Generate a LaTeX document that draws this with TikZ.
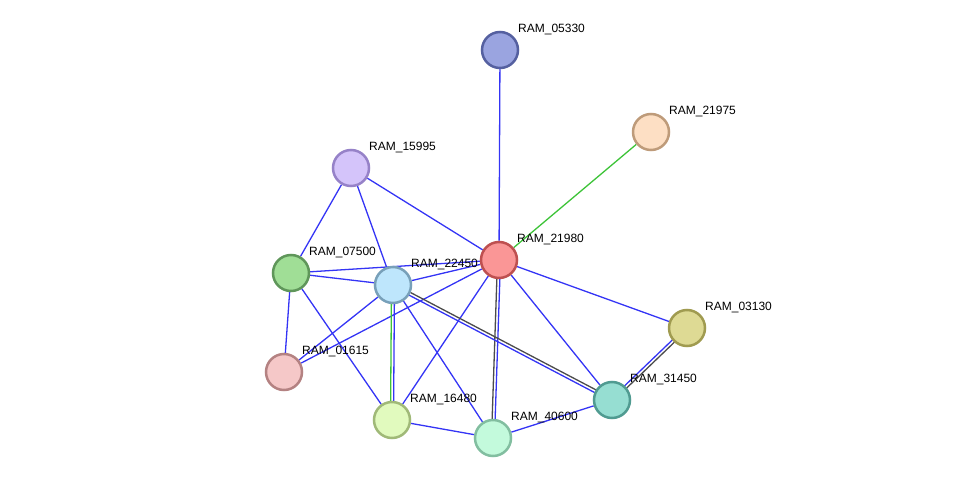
\documentclass[tikz,border=0pt]{standalone}
\usepackage{fontspec}
\setmainfont{Liberation Sans}
\usetikzlibrary{backgrounds,calc}
\definecolor{eblue}{RGB}{52,52,245}
\definecolor{egreen}{RGB}{60,195,55}
\definecolor{egray}{RGB}{75,75,75}

\begin{document}
\begin{tikzpicture}[x=1pt,y=-1pt,
  prot/.style={draw,circle,line width=2.5pt,minimum size=36pt,inner sep=0pt},
  lbl/.style={anchor=west,inner sep=0pt,font=\fontsize{12}{14}\selectfont},
  ev/.style={eblue,line width=1.3pt},
  eg/.style={egreen,line width=1.3pt},
  ek/.style={egray,line width=1.3pt}]
\useasboundingbox (0,0) rectangle (975,484);
% proteins
\node[prot,fill={rgb,255:red,154;green,164;blue,224},draw={rgb,255:red,85;green,96;blue,160}] (a05330) at (500,50) {};
\node[prot,fill={rgb,255:red,253;green,223;blue,196},draw={rgb,255:red,190;green,155;blue,122}] (a21975) at (651,132) {};
\node[prot,fill={rgb,255:red,212;green,196;blue,250},draw={rgb,255:red,150;green,130;blue,200}] (a15995) at (351,168) {};
\node[prot,fill={rgb,255:red,250;green,150;blue,150},draw={rgb,255:red,190;green,80;blue,80}] (a21980) at (499,260) {};
\node[prot,fill={rgb,255:red,160;green,222;blue,150},draw={rgb,255:red,95;green,150;blue,90}] (a07500) at (291,273) {};
\node[prot,fill={rgb,255:red,190;green,230;blue,252},draw={rgb,255:red,120;green,160;blue,185}] (a22450) at (393,285) {};
\node[prot,fill={rgb,255:red,222;green,218;blue,148},draw={rgb,255:red,160;green,155;blue,80}] (a03130) at (687,328) {};
\node[prot,fill={rgb,255:red,245;green,200;blue,200},draw={rgb,255:red,180;green,130;blue,130}] (a01615) at (284,372) {};
\node[prot,fill={rgb,255:red,150;green,222;blue,210},draw={rgb,255:red,80;green,155;blue,145}] (a31450) at (612,400) {};
\node[prot,fill={rgb,255:red,225;green,250;blue,190},draw={rgb,255:red,160;green,185;blue,120}] (a16480) at (392,420) {};
\node[prot,fill={rgb,255:red,195;green,250;blue,220},draw={rgb,255:red,130;green,190;blue,160}] (a40600) at (493,438) {};
% names
\foreach \p in {05330,21975,15995,21980,07500,22450,03130,01615,31450,16480,40600}
  \node[lbl] (l\p) at ($(a\p)+(18,-20)$) {RAM\_\p};
% links
\begin{scope}[on background layer]
\foreach \a/\b in {05330/21980,15995/07500,15995/22450,15995/21980,07500/21980,
    07500/22450,07500/01615,07500/16480,22450/01615,21980/01615,22450/40600,
    22450/21980,21980/16480,21980/31450,21980/03130,16480/40600,40600/31450}
  \draw[ev] (a\a) -- (a\b);
\draw[eg] (a21975) -- (a21980);
% double links
\draw[ev] ($(a22450)!1.5pt!90:(a16480)$) -- ($(a16480)!1.5pt!-90:(a22450)$);
\draw[eg] ($(a22450)!1.5pt!-90:(a16480)$) -- ($(a16480)!1.5pt!90:(a22450)$);
\draw[ek] ($(a21980)!1.5pt!-90:(a40600)$) -- ($(a40600)!1.5pt!90:(a21980)$);
\draw[ev] ($(a21980)!1.5pt!90:(a40600)$) -- ($(a40600)!1.5pt!-90:(a21980)$);
\draw[ek] ($(a22450)!1.5pt!90:(a31450)$) -- ($(a31450)!1.5pt!-90:(a22450)$);
\draw[ev] ($(a22450)!1.5pt!-90:(a31450)$) -- ($(a31450)!1.5pt!90:(a22450)$);
\draw[ek] ($(a03130)!1.5pt!90:(a31450)$) -- ($(a31450)!1.5pt!-90:(a03130)$);
\draw[ev] ($(a03130)!1.5pt!-90:(a31450)$) -- ($(a31450)!1.5pt!90:(a03130)$);
\end{scope}
\end{tikzpicture}
\end{document}
